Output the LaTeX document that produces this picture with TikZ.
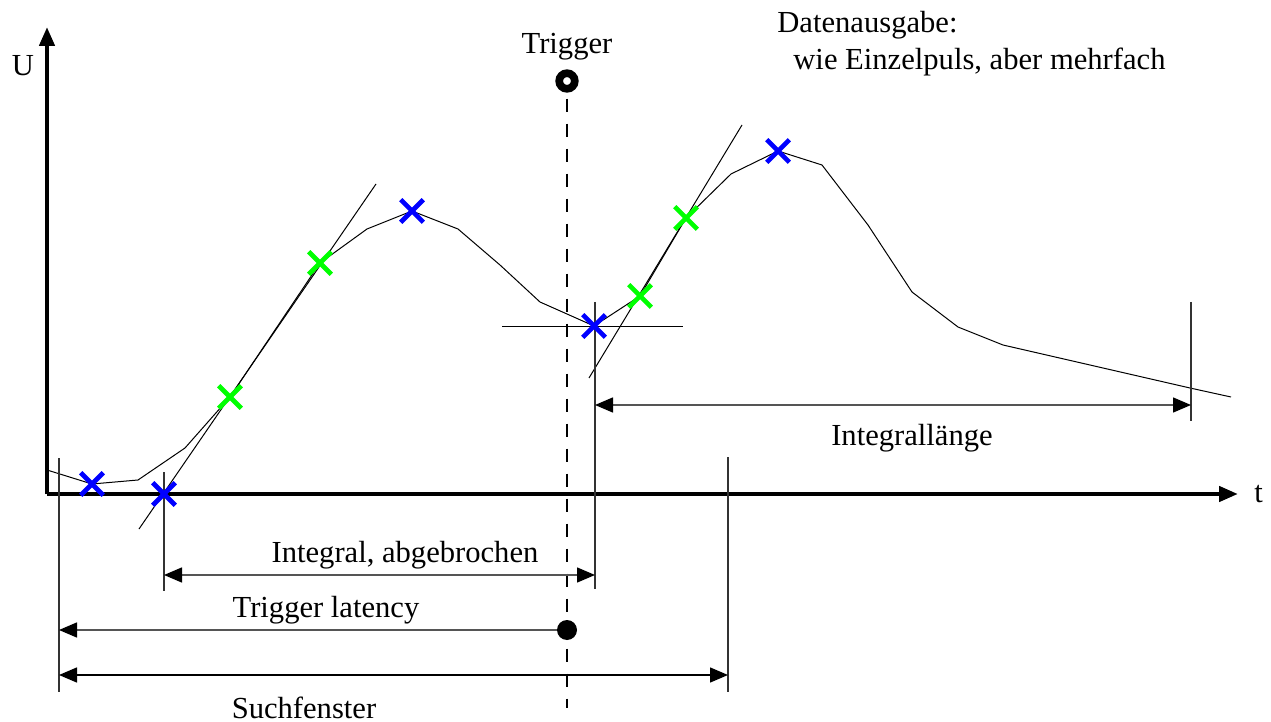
\documentclass[tikz,border=0pt]{standalone}
\usepackage{fontspec}
\setmainfont{Liberation Serif}
\usetikzlibrary{arrows.meta,positioning,shapes.misc}
\definecolor{MarkBlue}{HTML}{0000FF}
\definecolor{MarkGreen}{HTML}{00FF00}
\definecolor{Ink}{HTML}{000000}
\definecolor{Dim}{HTML}{555555}
\tikzset{
  lbl/.style={inner sep=0pt,font=\fontsize{15.3}{18}\selectfont,text=Ink},
  axis/.style={-{Triangle[length=9.5pt,width=7.5pt]},draw=Ink,line width=2.2pt},
  signal/.style={draw=Ink,line width=0.5pt},
  aux/.style={draw=Ink!80,line width=0.55pt},
  tip/.style={Triangle[length=9pt,width=7.5pt,color=Ink,fill=Ink]},
  dimarr/.style={{Triangle[length=9pt,width=7.5pt,color=Ink,fill=Ink]}-{Triangle[length=9pt,width=7.5pt,color=Ink,fill=Ink]},draw=Dim,line width=0.7pt},
  latarr/.style={{Triangle[length=9pt,width=7.5pt,color=Ink,fill=Ink]}-,draw=Dim,line width=0.7pt},
  bluex/.style={cross out,draw=MarkBlue,line width=2.3pt,minimum size=9pt,inner sep=0pt},
  greenx/.style={cross out,draw=MarkGreen,line width=2.3pt,minimum size=9pt,inner sep=0pt}
}

\begin{document}
\begin{tikzpicture}[x=0.5pt,y=-0.5pt]
  \useasboundingbox (0,0) rectangle (1271,722);
  % axes
  \coordinate (o) at (47,494);
  \coordinate (utip) at (47,27);
  \coordinate (ttip) at (1238,494);
  \draw[axis] (o) -- (utip);
  \draw[axis] (o) -- (ttip);
  \node[lbl,anchor=base] (ulbl) at (23,76) {U};
  \node[lbl,anchor=base west] (tlbl) at (1254,502) {t};

  % signal samples
  \coordinate (s0) at (47,470);
  \coordinate (b1) at (92,484);
  \coordinate (s1) at (138,480);
  \coordinate (s2) at (185,448);
  \coordinate (g1) at (230,397);
  \coordinate (g2) at (320,263);
  \coordinate (s3) at (367,229);
  \coordinate (b2) at (412,211);
  \coordinate (s4) at (458,229);
  \coordinate (s5) at (500,265);
  \coordinate (s6) at (540,302);
  \coordinate (b3) at (594,326);
  \coordinate (g3) at (640,296);
  \coordinate (g4) at (686,218);
  \coordinate (s7) at (731,174);
  \coordinate (b4) at (778,151);
  \coordinate (s8) at (822,165);
  \coordinate (s9) at (868,225);
  \coordinate (s10) at (912,292);
  \coordinate (s11) at (958,327);
  \coordinate (s12) at (1003,345);
  \coordinate (s13) at (1190,388);
  \coordinate (s14) at (1231,397);
  \draw[signal] (s0) -- (b1) -- (s1) -- (s2) -- (g1) -- (g2) -- (s3) -- (b2) -- (s4) -- (s5) -- (s6)
    -- (b3) -- (g3) -- (g4) -- (s7) -- (b4) -- (s8) -- (s9) -- (s10) -- (s11) -- (s12) -- (s13) -- (s14);

  % tangents and threshold
  \coordinate (ta) at (139,529);
  \coordinate (tb) at (376,184);
  \coordinate (tc) at (589,378);
  \coordinate (td) at (742,125);
  \coordinate (ha) at (502,326);
  \coordinate (hb) at (683,326);
  \draw[signal] (ta) -- (tb);
  \draw[signal] (tc) -- (td);
  \draw[signal] (ha) -- (hb);

  % reference lines
  \coordinate (v1a) at (59,458);   \coordinate (v1b) at (59,692);
  \coordinate (v2a) at (164,472);  \coordinate (v2b) at (164,591);
  \coordinate (v3a) at (595,302);  \coordinate (v3b) at (595,589);
  \coordinate (v4a) at (728,457);  \coordinate (v4b) at (728,692);
  \coordinate (v5a) at (1191,302); \coordinate (v5b) at (1191,421);
  \foreach \v in {1,...,5}
    \draw[aux] (v\v a) -- (v\v b);

  % trigger
  \node[lbl,anchor=base] (trglbl) at (567,54) {Trigger};
  \node[circle,draw=Ink,line width=3.85pt,minimum size=7.8pt,inner sep=0pt] (trg) at (567,81) {};
  \node[circle,fill=Ink,minimum size=10pt,inner sep=0pt] (lat) at (567,630) {};
  \coordinate (trgend) at (567,708);
  \draw[Ink,line width=0.6pt,dash pattern=on 6.5pt off 6pt] (trg.south) ++(0,6) -- (trgend);

  % markers
  \node[bluex] (x1) at (b1) {};
  \node[bluex] (x2) at (164,494) {};
  \node[greenx] (x3) at (g1) {};
  \node[greenx] (x4) at (g2) {};
  \node[bluex] (x5) at (b2) {};
  \node[bluex] (x6) at (b3) {};
  \node[greenx] (x7) at (g3) {};
  \node[greenx] (x8) at (g4) {};
  \node[bluex] (x9) at (b4) {};

  % dimensions
  \coordinate (ia) at (164,575);  \coordinate (ib) at (595,575);
  \coordinate (la) at (59,630);
  \coordinate (sa) at (59,675);   \coordinate (sb) at (728,675);
  \coordinate (na) at (595,405);  \coordinate (nb) at (1191,405);
  \draw[dimarr] (ia) -- (ib);
  \draw[latarr] (la) -- (lat.west);
  \draw[dimarr,draw=Ink] (sa) -- (sb);
  \draw[dimarr] (na) -- (nb);

  \node[lbl,anchor=base] (intlbl) at (405,562) {Integral, abgebrochen};
  \node[lbl,anchor=base] (latlbl) at (326,617) {Trigger latency};
  \node[lbl,anchor=base] (suchlbl) at (304,718) {Suchfenster};
  \node[lbl,anchor=base] (lenlbl) at (912,445) {Integrallänge};
  \node[lbl,anchor=base west] (outlbl) at (777,33) {Datenausgabe:};
  \node[lbl,anchor=base west] (outlbl2) at (793,70) {wie Einzelpuls, aber mehrfach};
\end{tikzpicture}
\end{document}
